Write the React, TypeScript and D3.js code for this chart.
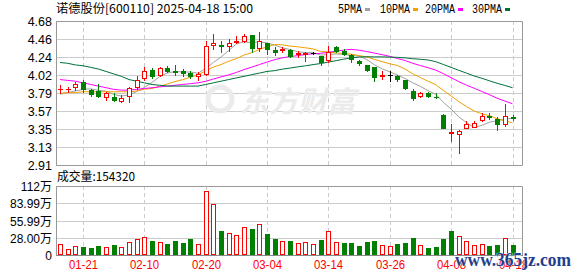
import React from 'react';
import * as d3 from 'd3';

// ---------- data ----------
const dates = [
  '01-16','01-17','01-20','01-21','01-22','01-23','01-24','01-27','02-05','02-06',
  '02-07','02-10','02-11','02-12','02-13','02-14','02-17','02-18','02-19','02-20',
  '02-21','02-24','02-25','02-26','02-27','02-28','03-03','03-04','03-05','03-06',
  '03-07','03-10','03-11','03-12','03-13','03-14','03-17','03-18','03-19','03-20',
  '03-21','03-24','03-25','03-26','03-27','03-28','03-31','04-01','04-02','04-03',
  '04-07','04-08','04-09','04-10','04-11','04-14','04-15','04-16','04-17','04-18',
];
const opens = [
  3.84,3.84,3.87,3.93,3.83,3.82,3.75,3.74,3.70,3.76,
  3.87,3.98,4.08,4.02,4.10,4.06,4.07,4.04,4.00,4.03,
  4.38,4.39,4.37,4.42,4.44,4.51,4.35,4.41,4.32,4.32,
  4.32,4.27,4.28,4.29,4.25,4.20,4.36,4.31,4.26,4.19,
  4.14,4.12,4.01,4.02,4.00,3.95,3.82,3.76,3.80,3.75,
  3.53,3.30,3.29,3.37,3.38,3.46,3.51,3.47,3.41,3.50,
];
const highs = [
  3.89,3.87,3.93,3.95,3.85,3.91,3.81,3.79,3.77,3.87,
  4.00,4.11,4.10,4.11,4.13,4.14,4.09,4.06,4.05,4.43,
  4.52,4.43,4.46,4.50,4.52,4.51,4.54,4.41,4.36,4.36,
  4.33,4.31,4.30,4.30,4.25,4.37,4.37,4.34,4.28,4.20,
  4.14,4.12,4.07,4.07,4.02,3.96,3.85,3.81,3.81,3.79,
  3.54,3.41,3.34,3.45,3.45,3.55,3.55,3.50,3.66,3.53,
];
const lows = [
  3.80,3.81,3.83,3.81,3.76,3.75,3.71,3.70,3.69,3.69,
  3.85,3.96,3.98,4.00,4.05,4.02,4.01,3.98,3.96,4.02,
  4.33,4.30,4.31,4.41,4.42,4.30,4.31,4.28,4.26,4.30,
  4.24,4.24,4.19,4.27,4.14,4.18,4.30,4.26,4.17,4.14,
  4.06,3.94,3.97,3.94,3.94,3.85,3.71,3.75,3.75,3.73,
  3.37,3.21,3.06,3.37,3.38,3.45,3.47,3.34,3.39,3.46,
];
const closes = [
  3.85,3.85,3.91,3.84,3.78,3.76,3.80,3.71,3.73,3.86,
  3.96,4.06,4.01,4.10,4.07,4.05,4.04,4.00,4.03,4.37,
  4.41,4.37,4.41,4.43,4.50,4.35,4.43,4.34,4.30,4.33,
  4.25,4.29,4.29,4.29,4.18,4.30,4.31,4.27,4.21,4.16,
  4.08,3.99,4.02,4.02,3.97,3.86,3.73,3.80,3.76,3.74,
  3.37,3.31,3.33,3.41,3.43,3.51,3.50,3.42,3.51,3.49,
];
// volume in 万 (10k shares)
const volumes = [
  17.9,9.7,14.6,13.5,11.4,15.1,13.0,16.8,13.0,21.1,
  25.4,28.7,22.7,21.1,18.4,22.7,20.0,26.0,17.9,103.9,
  82.3,39.0,35.2,31.9,44.9,42.2,50.3,34.1,26.0,22.2,
  22.7,19.5,21.1,17.9,24.3,38.8,21.6,20.0,20.0,14.6,
  21.6,23.2,16.2,14.6,17.9,20.0,27.6,16.2,11.9,13.5,
  26.0,39.0,30.8,23.2,16.2,17.9,14.6,16.2,27.1,15.432,
];
const closeBeforeFirst = 3.83;
const lastVolumeText = '154320';

// moving-average values read from the chart where history is not shown
const ma5Head = [3.78, 3.80, 3.82, 3.84];
const ma10Head = [3.79, 3.80, 3.80, 3.81, 3.81, 3.81, 3.81, 3.81, 3.81];
const ma20Head = [3.96, 3.95, 3.94, 3.92, 3.90, 3.88, 3.86, 3.84, 3.83, 3.83,
  3.84, 3.85, 3.86, 3.87, 3.88, 3.89, 3.90, 3.91, 3.92];
const ma30Head = [4.17, 4.16, 4.14, 4.13, 4.11, 4.09, 4.06, 4.03, 4.00, 3.96,
  3.94, 3.92, 3.90, 3.89, 3.88, 3.88, 3.88, 3.88, 3.88, 3.90,
  3.92, 3.94, 3.96, 3.98, 4.00, 4.02, 4.04, 4.06, 4.07];

const tickDates = ['01-21','02-10','02-20','03-04','03-14','03-26','04-08','04-18'];
const priceMax = 4.68;
const priceMin = 2.91;
const priceTickLabels = ['4.68','4.46','4.24','4.02','3.79','3.57','3.35','3.13','2.91'];
const volMax = 112;
const volTickValues = [112, 84, 56, 28, 0];
const volTickLabels = ['112万','83.99万','55.99万','28.00万','0'];
const legendLabels = ['5PMA','10PMA','20PMA','30PMA'];
const maPeriods = [5, 10, 20, 30];
const maHeads = [ma5Head, ma10Head, ma20Head, ma30Head];
const maColors = ['#a0a0a0', '#f0a000', '#ff00ff', '#00703a'];
const title = '诺德股份[600110] 2025-04-18 15:00';

// ---------- layout ----------
const W = 578, H = 276;
const L = 56, R = 522;
const pTop = 21, pBot = 165;
const vTop = 186, vBot = 255;
const RED = '#ff0000', GREEN = '#008000';

function movingAverage(head: number[], period: number): number[] {
  return closes.map((_, i) =>
    i < head.length ? head[i] : (d3.mean(closes.slice(i - period + 1, i + 1)) as number));
}

export default function App() {
  const x = d3.scalePoint<string>().domain(dates).range([60, 512.5]);
  const y = d3.scaleLinear().domain([priceMin, priceMax]).range([pBot, pTop]);
  const yv = d3.scaleLinear().domain([0, volMax]).range([vBot, vTop]);
  const priceStep = (priceMax - priceMin) / (priceTickLabels.length - 1);

  const mas = maPeriods.map((p, k) => movingAverage(maHeads[k], p));
  const line = d3.line<number>().x((_, i) => x(dates[i]) as number).y((v) => y(v));

  const candles = dates.map((d, i) => {
    const cx = Math.round(x(d) as number);
    const o = opens[i], c = closes[i];
    const yO = Math.round(y(o)), yC = Math.round(y(c));
    const yH = Math.round(y(highs[i])), yL = Math.round(y(lows[i]));
    const top = Math.min(yO, yC), bot = Math.max(yO, yC);
    const color = c > o ? RED : c < o ? GREEN : '#000000';
    const els: React.ReactNode[] = [];
    if (bot - top < 1) {
      els.push(<line key="w" x1={cx + 0.5} x2={cx + 0.5} y1={yH} y2={yL + 1} stroke={color} />);
      els.push(<line key="b" x1={cx - 2} x2={cx + 3} y1={top + 0.5} y2={top + 0.5} stroke={color} />);
    } else if (c > o) {
      els.push(<line key="w1" x1={cx + 0.5} x2={cx + 0.5} y1={yH} y2={top} stroke={color} />);
      els.push(<line key="w2" x1={cx + 0.5} x2={cx + 0.5} y1={bot + 1} y2={yL + 1} stroke={color} />);
      els.push(<rect key="r" x={cx - 1.5} y={top + 0.5} width={4} height={bot - top} fill="#fff" stroke={color} />);
    } else {
      els.push(<line key="w" x1={cx + 0.5} x2={cx + 0.5} y1={yH} y2={yL + 1} stroke={color} />);
      els.push(<rect key="r" x={cx - 2} y={top} width={5} height={bot - top + 1} fill={color} />);
    }
    return <g key={d}>{els}</g>;
  });

  const volBars = dates.map((d, i) => {
    const cx = Math.round(x(d) as number);
    const prev = i === 0 ? closeBeforeFirst : closes[i - 1];
    const up = closes[i] >= prev;
    const top = Math.round(yv(volumes[i]));
    if (up) {
      return <rect key={d} x={cx - 1.5} y={top + 0.5} width={4} height={vBot - top - 1} fill="#fff" stroke={RED} />;
    }
    return <rect key={d} x={cx - 2} y={top} width={5} height={vBot - top} fill={GREEN} />;
  });

  const legendX = [338, 380, 425, 472];
  const legendW = [24, 30, 30, 30];

  return (
    <svg width={W} height={H} style={{ position: 'absolute', left: 0, top: 0, background: '#fff' }}
      fontFamily="'Liberation Sans', Arial, sans-serif">
      <rect x={0} y={0} width={W} height={H} fill="#fff" />
      {/* title */}
      <text x={56} y={13} fontSize={12} fontFamily="'Noto Sans CJK SC', sans-serif" textLength={197}
        lengthAdjust="spacingAndGlyphs" fill="#000">{title}</text>
      {/* legend */}
      {legendLabels.map((lab, k) => (
        <g key={lab}>
          <text x={legendX[k]} y={13} fontSize={12} fontFamily="'Liberation Mono', monospace"
            textLength={legendW[k]} lengthAdjust="spacingAndGlyphs" fill="#000">{lab}</text>
          <rect x={legendX[k] + legendW[k] + 3} y={8} width={5} height={3} fill={maColors[k]} />
        </g>
      ))}

      {/* price grid */}
      {priceTickLabels.map((lab, k) => {
        const yy = Math.round(y(priceMax - k * priceStep)) + 0.5;
        return (
          <g key={lab + k}>
            <line x1={L} x2={R} y1={yy} y2={yy} stroke="#cccccc" />
            <text x={52} y={yy + 4.5} fontSize={12.5} textAnchor="end" fill="#000">{lab}</text>
          </g>
        );
      })}
      {/* volume grid */}
      {volTickValues.map((v, k) => {
        const yy = Math.round(yv(v)) + 0.5;
        return (
          <g key={'v' + k}>
            <line x1={L} x2={R} y1={yy} y2={yy} stroke="#cccccc" />
            <text x={52} y={yy + 4.5} fontSize={12} textAnchor="end" fill="#000"
              fontFamily="'Liberation Sans', 'Noto Sans CJK SC', sans-serif">{volTickLabels[k]}</text>
          </g>
        );
      })}
      {/* vertical dashed grid + x labels */}
      {tickDates.map((d) => {
        const xx = Math.round(x(d) as number) + 0.5;
        return (
          <g key={'t' + d}>
            <line x1={xx} x2={xx} y1={pTop} y2={pBot} stroke="#cccccc" strokeDasharray="4,3" />
            <line x1={xx} x2={xx} y1={vTop} y2={vBot} stroke="#cccccc" strokeDasharray="4,3" />
            <text x={xx} y={269} fontSize={12} textAnchor="middle" fill="#ff0000" textLength={29}
              lengthAdjust="spacingAndGlyphs">{d}</text>
          </g>
        );
      })}

      {/* watermark */}
      <g fill="#ebebeb" opacity={1}>
        <circle cx={220} cy={99} r={12} fill="none" stroke="#ebebeb" strokeWidth={5} />
        <text x={240} y={112} fontSize={29} fontWeight="bold" fontStyle="italic"
          fontFamily="'Noto Sans CJK SC', sans-serif">东方财富</text>
      </g>

      {/* frames */}
      <path d={`M${L + 0.5},${pTop + 0.5}H${R + 0.5}V${pBot + 0.5}H${L + 0.5}Z`} fill="none" stroke="#999999" />
      <path d={`M${L + 0.5},${vBot + 0.5}V${vTop + 0.5}H${R + 0.5}V${vBot + 0.5}`} fill="none" stroke="#999999" />
      <line x1={L} x2={R + 1} y1={vBot + 0.5} y2={vBot + 0.5} stroke="#888888" />

      {/* moving averages */}
      {mas.map((m, k) => (
        <path key={'ma' + k} d={line(m) || ''} fill="none" stroke={maColors[k]} strokeWidth={1} />
      ))}

      {/* candles */}
      {candles}

      {/* volume */}
      <text x={57} y={181} fontSize={12} fontFamily="'Noto Sans CJK SC', sans-serif" textLength={78}
        lengthAdjust="spacingAndGlyphs" fill="#000">{'成交量:' + lastVolumeText}</text>
      {volBars}

      {/* site watermark */}
      <text x={455} y={266} fontSize={18} fontWeight="bold" fill="#1f3f8f" stroke="#ffffff" strokeWidth={0.6}
        paintOrder="stroke" fontFamily="'Liberation Serif', serif" textLength={116}
        lengthAdjust="spacingAndGlyphs">www.365jz.com</text>
    </svg>
  );
}
